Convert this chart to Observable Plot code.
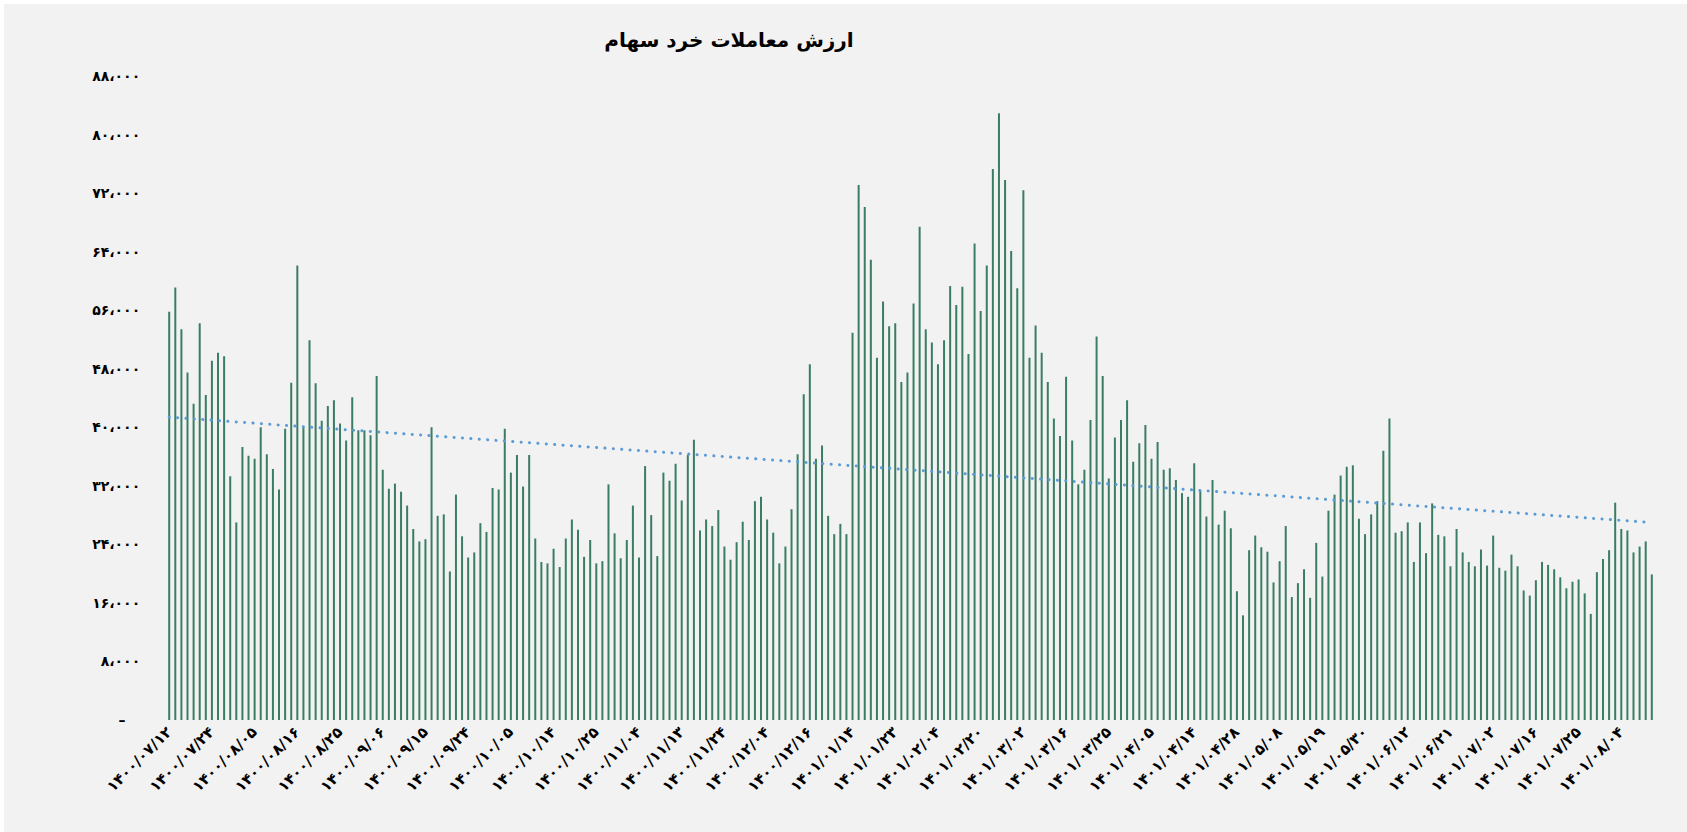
<!DOCTYPE html>
<html>
<head>
<meta charset="utf-8">
<script src="https://cdn.jsdelivr.net/npm/d3@7"></script>
<script src="https://cdn.jsdelivr.net/npm/@observablehq/plot@0.6"></script>
<style>
  html, body { margin: 0; padding: 0; background: #ffffff; }
  #frame { position: absolute; left: 4px; top: 4px; width: 1683px; height: 828px; background: #f2f2f2; overflow: hidden; }
  #title { position: absolute; left: 525px; top: 18px; width: 400px; height: 36px; text-align: center; direction: rtl;
           font-family: "DejaVu Sans", sans-serif; font-weight: bold; font-size: 20px; color: #000; line-height: 36px; }
  #chart { position: absolute; left: 0; top: 56px; }
</style>
</head>
<body>
<div id="frame">
  <div id="title">ارزش معاملات خرد سهام</div>
  <div id="chart"></div>
</div>
<script>
// Retail stock trading value, one bar per trading day (244 days)
const values = [
  55800, 59100, 53400, 47500, 43200, 54200, 44400, 49100, 50200, 49700,
  33300, 27000, 37300, 36100, 35700, 40000, 36300, 34300, 31500, 39800,
  46100, 62100, 40000, 51900, 46000, 40900, 42900, 43700, 40500, 38200,
  44100, 39600, 39600, 38900, 47000, 34200, 31600, 32300, 31200, 29300,
  26100, 24400, 24700, 40000, 27900, 28100, 20300,
  30800, 25100, 22200, 22900, 26900, 25700, 31700, 31500, 39800, 33800,
  36200, 31900, 36200, 24800, 21600, 21400, 23400, 20900, 24800, 27400,
  26000, 22300, 24600, 21400, 21700, 32200, 25500, 22100, 24600, 29300,
  22200, 34700, 28000, 22400, 33800, 32700, 35000, 30000, 36200, 38300,
  25900, 27400, 26500, 28700, 23700, 21900, 24300,
  27100, 24600, 29900, 30500, 27400, 25600, 21400, 23700, 28800, 36300,
  44500, 48600, 35700, 37500, 27900, 25400, 26800, 25400, 52900, 73100,
  70100, 62900, 49500, 57200, 53800, 54200, 46200, 47500, 56900, 67400,
  53400, 51600, 48600, 51900, 59300, 56700, 59200, 50000, 65100, 55900,
  62100, 75300, 82900, 73800, 64100, 59000, 72400, 49500, 53900, 50200,
  46200, 41200, 38800, 46900, 38200, 32200, 34200, 41000, 52400, 47000,
  33000, 38600, 41000, 43700, 35300, 37800, 40300, 35700, 38000, 34200,
  34400, 32800, 31000, 30500, 35100, 31400, 27800, 32800, 26700, 28600,
  26200, 17600, 14300, 23200, 25200, 23600, 23000, 18800, 21700, 26500,
  16800, 18700, 20600, 16700, 24200, 19600, 28600, 30800, 33400, 34600,
  34800, 27500, 25400, 28100, 29900, 36800, 41200, 25600, 25800, 27000,
  21600, 27000, 22800, 29600, 25300, 25100, 21000, 26100, 22900, 21600,
  21000, 23300, 21100, 25200, 20800, 20400, 22600, 21000, 17700, 17000,
  19100, 21600, 21200, 20600, 19500, 18000, 18900, 19200, 17300, 14500,
  20200, 22000, 23200, 29700, 26100, 25900, 22900, 23700, 24400, 19900
];

// Date labels shown under every 7th trading day
const dateLabels = [
  "۱۴۰۰/۰۷/۱۲", "۱۴۰۰/۰۷/۲۴", "۱۴۰۰/۰۸/۰۵", "۱۴۰۰/۰۸/۱۶", "۱۴۰۰/۰۸/۲۵",
  "۱۴۰۰/۰۹/۰۶", "۱۴۰۰/۰۹/۱۵", "۱۴۰۰/۰۹/۲۴", "۱۴۰۰/۱۰/۰۵", "۱۴۰۰/۱۰/۱۴",
  "۱۴۰۰/۱۰/۲۵", "۱۴۰۰/۱۱/۰۴", "۱۴۰۰/۱۱/۱۳", "۱۴۰۰/۱۱/۲۴", "۱۴۰۰/۱۲/۰۴",
  "۱۴۰۰/۱۲/۱۶", "۱۴۰۱/۰۱/۱۴", "۱۴۰۱/۰۱/۲۳", "۱۴۰۱/۰۲/۰۴", "۱۴۰۱/۰۲/۲۰",
  "۱۴۰۱/۰۳/۰۲", "۱۴۰۱/۰۳/۱۶", "۱۴۰۱/۰۳/۲۵", "۱۴۰۱/۰۴/۰۵", "۱۴۰۱/۰۴/۱۴",
  "۱۴۰۱/۰۴/۲۸", "۱۴۰۱/۰۵/۰۸", "۱۴۰۱/۰۵/۱۹", "۱۴۰۱/۰۵/۳۰", "۱۴۰۱/۰۶/۱۲",
  "۱۴۰۱/۰۶/۲۱", "۱۴۰۱/۰۷/۰۲", "۱۴۰۱/۰۷/۱۶", "۱۴۰۱/۰۷/۲۵", "۱۴۰۱/۰۸/۰۴"
];
const labelStep = 7;

const yTicks = [0, 8000, 16000, 24000, 32000, 40000, 48000, 56000, 64000, 72000, 80000, 88000];

const faDigits = "۰۱۲۳۴۵۶۷۸۹";
const toFa = s => String(s).replace(/[0-9]/g, d => faDigits[+d]);
const fmtY = v => v === 0 ? "–\u00a0\u00a0\u00a0" : toFa(d3.format(",")(v)).replace(/,/g, "،");

const data = values.map((v, k) => ({i: k + 1, v}));
const tickPos = dateLabels.map((_, k) => 1 + k * labelStep);
const labelAt = new Map(tickPos.map((p, k) => [p, dateLabels[k]]));

const W = 1683, H = 772;
const chart = Plot.plot({
  width: W,
  height: H,
  marginLeft: 164.7,
  marginRight: 35.7,
  marginTop: 16,
  marginBottom: 112,
  style: {background: "transparent", fontFamily: "DejaVu Sans, sans-serif", color: "#000"},
  x: {type: "linear", domain: [1, values.length], axis: null},
  y: {domain: [0, 88000], axis: null},
  marks: [
    Plot.axisY({ticks: yTicks, tickFormat: fmtY, tickSize: 0, tickPadding: 29, fontSize: 14, fontWeight: "bold", label: null}),
    Plot.axisX({ticks: tickPos, tickFormat: d => labelAt.get(d), tickSize: 0, tickPadding: 9, tickRotate: -45, fontSize: 15, fontWeight: "bold", label: null}),
    Plot.ruleX(data, {x: "i", y1: 0, y2: "v", stroke: "#3a7d63", strokeWidth: 2}),
    Plot.linearRegressionY(data, {x: "i", y: "v", stroke: "#5b9bd5", strokeWidth: 3, strokeDasharray: "0.1 8.3", strokeLinecap: "round", ci: 0})
  ]
});
document.getElementById("chart").appendChild(chart);
</script>
</body>
</html>
